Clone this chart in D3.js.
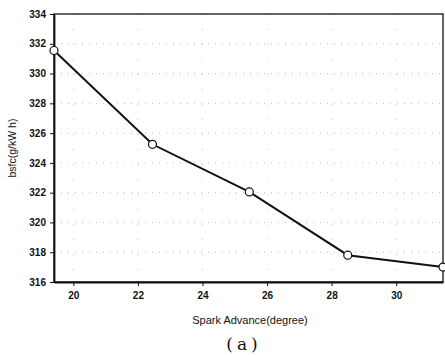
<!DOCTYPE html>
<html>
<head>
<meta charset="utf-8">
<script src="https://cdn.jsdelivr.net/npm/d3@7"></script>
<style>
  body { margin: 0; background: #fff; }
  svg { display: block; }
</style>
</head>
<body>
<script>
var width = 445,
    height = 355;

var margin = {top: 14, right: 2, bottom: 73, left: 54};

// values
var sparkAdvance = [19.4, 22.45, 25.45, 28.5, 31.45];
var bsfc = [331.55, 325.25, 322.05, 317.8, 317.0];
var xTicks = [20, 22, 24, 26, 28, 30];
var yTicks = [316, 318, 320, 322, 324, 326, 328, 330, 332, 334];

var svg = d3.select("body").append("svg")
    .attr("width", width)
    .attr("height", height);

var x = d3.scaleLinear()
    .domain([19.4, 31.45])
    .range([margin.left, width - margin.right]);

var y = d3.scaleLinear()
    .domain([316, 334])
    .range([height - margin.bottom, margin.top]);

// grid
svg.append("g")
    .selectAll("line.hgrid")
    .data(yTicks.slice(1, -1))
    .join("line")
    .attr("x1", margin.left)
    .attr("x2", width - margin.right)
    .attr("y1", d => y(d))
    .attr("y2", d => y(d))
    .attr("stroke", "#aaa")
    .attr("stroke-width", 0.8)
    .attr("stroke-dasharray", "1,6");

svg.append("g")
    .selectAll("line.vgrid")
    .data(xTicks)
    .join("line")
    .attr("x1", d => x(d))
    .attr("x2", d => x(d))
    .attr("y1", margin.top)
    .attr("y2", height - margin.bottom)
    .attr("stroke", "#bbb")
    .attr("stroke-width", 0.8)
    .attr("stroke-dasharray", "1,14");

// frame
svg.append("rect")
    .attr("x", margin.left)
    .attr("y", margin.top)
    .attr("width", width - margin.right - margin.left)
    .attr("height", height - margin.bottom - margin.top)
    .attr("fill", "none")
    .attr("stroke", "#111")
    .attr("stroke-width", 1.3);

// axes
var xAxis = svg.append("g")
    .attr("transform", "translate(0," + (height - margin.bottom) + ")")
    .call(d3.axisBottom(x).tickValues(xTicks).tickSize(4).tickSizeOuter(0).tickPadding(6));

var yAxis = svg.append("g")
    .attr("transform", "translate(" + margin.left + ",0)")
    .call(d3.axisLeft(y).tickValues(yTicks).tickSize(4).tickSizeOuter(0).tickPadding(4));

[xAxis, yAxis].forEach(function(g) {
  g.select(".domain").attr("stroke", "#111").attr("stroke-width", 1.8);
  g.selectAll(".tick line").attr("stroke", "#111");
  g.selectAll(".tick text")
    .attr("fill", "#111")
    .style("font-family", "Liberation Sans, Arial, sans-serif")
    .style("font-size", "10px")
    .style("font-weight", "bold");
});

// line + markers
var pts = sparkAdvance.map((d, i) => [d, bsfc[i]]);

svg.append("path")
    .datum(pts)
    .attr("fill", "none")
    .attr("stroke", "#111")
    .attr("stroke-width", 2)
    .attr("d", d3.line().x(d => x(d[0])).y(d => y(d[1])));

svg.selectAll("circle.pt")
    .data(pts)
    .join("circle")
    .attr("class", "pt")
    .attr("cx", d => x(d[0]))
    .attr("cy", d => y(d[1]))
    .attr("r", 4)
    .attr("fill", "#fff")
    .attr("stroke", "#111")
    .attr("stroke-width", 1.2);

// labels
svg.append("text")
    .attr("x", 250)
    .attr("y", 324)
    .attr("text-anchor", "middle")
    .style("font-family", "Liberation Sans, Arial, sans-serif")
    .style("font-size", "11px")
    .attr("fill", "#111")
    .text("Spark Advance(degree)");

svg.append("text")
    .attr("transform", "translate(16,148) rotate(-90)")
    .attr("text-anchor", "middle")
    .style("font-family", "Liberation Sans, Arial, sans-serif")
    .style("font-size", "10.5px")
    .attr("fill", "#111")
    .text("bsfc(g/kW h)");

svg.append("text")
    .attr("x", 244)
    .attr("y", 350)
    .attr("text-anchor", "middle")
    .style("font-family", "DejaVu Serif, serif")
    .style("font-size", "17px")
    .style("letter-spacing", "4px")
    .attr("fill", "#111")
    .text("(a)");
</script>
</body>
</html>
